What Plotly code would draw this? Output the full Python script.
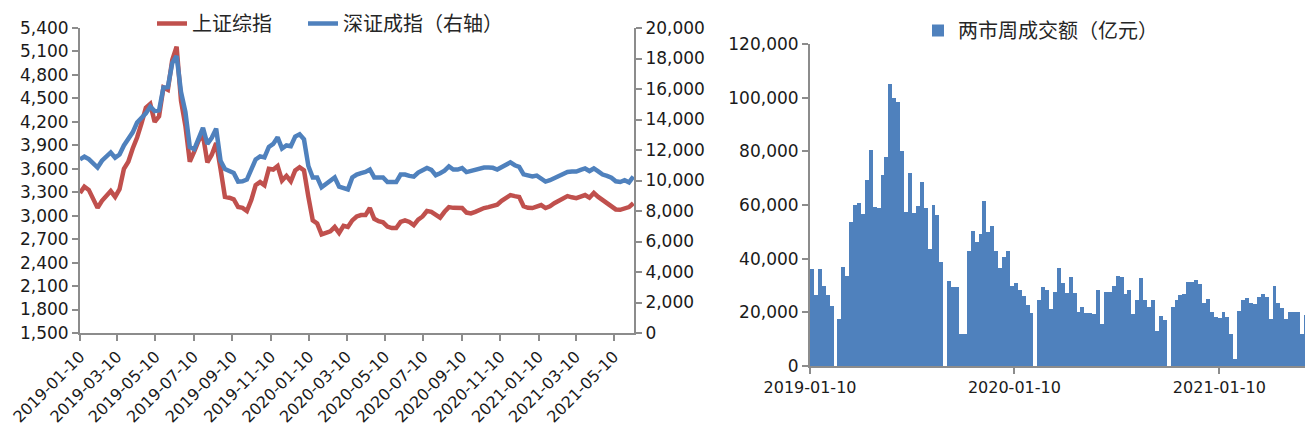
import plotly.graph_objects as go
import pandas as pd

# weekly dates (one per week, 2019-01-10 .. 2021-06-10)
weeks = pd.date_range("2019-01-10", periods=127, freq="7D")

sh_index = [
    3290, 3370, 3330, 3220, 3100, 3190, 3260, 3315, 3240, 3340,
    3600, 3690, 3860, 4000, 4180, 4380, 4430, 4200, 4270, 4640,
    4610, 4990, 5160, 4470, 4150, 3690, 3820, 3960, 4030, 3680,
    3780, 3930, 3600, 3240, 3230, 3210, 3110, 3100, 3060, 3200,
    3390, 3430, 3390, 3600, 3590, 3635, 3450, 3510, 3440, 3580,
    3620, 3580, 3240, 2940, 2900, 2760, 2780, 2800, 2855, 2780,
    2870, 2855, 2940, 2990, 3008, 3008, 3098, 2960, 2930, 2915,
    2860, 2842, 2842, 2920, 2940, 2920, 2880, 2950, 2990, 3060,
    3050, 3008, 2975, 3050, 3110, 3100, 3098, 3098, 3040, 3030,
    3050, 3080, 3098, 3110, 3125, 3140, 3190, 3230, 3264, 3250,
    3238, 3120, 3100, 3098, 3120, 3136, 3098, 3120, 3160, 3195,
    3220, 3250, 3235, 3225, 3245, 3264, 3230, 3290, 3240, 3200,
    3150, 3110, 3080, 3075, 3090, 3110, 3160,
]

sz_index = [
    11380, 11560, 11400, 11150, 10850, 11300, 11600, 11840, 11500, 11700,
    12300, 12750, 13160, 13800, 14100, 14400, 14850, 14550, 14600, 16100,
    16120, 17700, 18160, 15800, 14500, 12200, 12050, 12800, 13450, 12400,
    12800, 13400, 11300, 10750, 10600, 10500, 9930, 9950, 10060, 10700,
    11380, 11580, 11510, 12200, 12400, 12830, 12100, 12300, 12250, 12880,
    13030, 12700, 10950, 10200, 10200, 9550, 9750, 10000, 10200, 9600,
    9500, 9420, 10200, 10390, 10480, 10560, 10720, 10200, 10200, 10200,
    9900, 9870, 9900, 10390, 10390, 10300, 10250, 10520, 10650, 10820,
    10700, 10350, 10480, 10650, 10920, 10720, 10720, 10820, 10550, 10620,
    10680, 10800, 10850, 10850, 10830, 10720, 10900, 11050, 11190, 11000,
    10900, 10400, 10300, 10260, 10320, 10100, 9930, 10020, 10150, 10350,
    10420, 10560, 10590, 10590, 10700, 10790, 10620, 10790, 10600, 10390,
    10300, 10180, 9950, 9900, 10020, 9880, 10260,
]

turnover = [
    36300, 26500, 36000, 29800, 26300, 22400, 0, 17500, 36900, 33400,
    53700, 60000, 60900, 56600, 69400, 80600, 59400, 59000, 71200, 77900,
    105000, 100000, 98400, 80200, 57500, 72100, 56900, 59600, 68400, 58700,
    43700, 60000, 56100, 38700, 0, 31500, 29400, 29600, 12100, 11900,
    43000, 50300, 46200, 49300, 61500, 50000, 52000, 43000, 36600, 40800,
    42700, 30000, 30800, 28300, 26200, 22800, 19600, 0, 24600, 29300,
    28300, 21200, 27500, 36600, 30800, 27100, 33100, 27100, 20200, 22100,
    19600, 19600, 19300, 28300, 15800, 27500, 27500, 30000, 33400, 33300,
    26800, 28300, 19500, 24600, 32700, 24600, 22100, 24600, 13100, 18700,
    17100, 0, 22100, 24600, 26500, 26800, 31200, 31400, 32100, 30600,
    23300, 25000, 20300, 18100, 17800, 20000, 18100, 11900, 2500, 20600,
    24600, 25200, 23300, 23100, 25600, 26800, 25800, 17500, 30000, 23300,
    21800, 17700, 20000, 20300, 20000, 12100, 19000,
]

line_ticks = ["2019-01-10", "2019-03-10", "2019-05-10", "2019-07-10", "2019-09-10",
              "2019-11-10", "2020-01-10", "2020-03-10", "2020-05-10", "2020-07-10",
              "2020-09-10", "2020-11-10", "2021-01-10", "2021-03-10", "2021-05-10"]
bar_ticks = ["2019-01-10", "2020-01-10", "2021-01-10"]

RED = "#C0504D"
BLUE = "#4F81BD"
AXIS = "#8C8C8C"
TXT = "#1A1A1A"
TICKFONT = dict(family="DejaVu Sans", size=17, color=TXT)
XTICKFONT = dict(family="DejaVu Sans", size=16, color=TXT)
CJK = dict(family="Noto Sans CJK SC", size=20, color="#262626")

fig = go.Figure()
fig.add_trace(go.Scatter(x=weeks, y=sh_index, name="上证综指", mode="lines",
                         line=dict(color=RED, width=4.5), xaxis="x", yaxis="y",
                         legend="legend"))
fig.add_trace(go.Scatter(x=weeks, y=sz_index, name="深证成指（右轴）", mode="lines",
                         line=dict(color=BLUE, width=4.5), xaxis="x", yaxis="y2",
                         legend="legend3"))
fig.add_trace(go.Bar(x=weeks, y=turnover, name="两市周成交额（亿元）",
                     marker=dict(color=BLUE, line=dict(width=0)),
                     width=7 * 86400000, offset=0, xaxis="x2", yaxis="y3",
                     legend="legend2"))

axis_common = dict(showline=True, linecolor=AXIS, linewidth=2, ticks="outside",
                   tickcolor=AXIS, tickwidth=2, ticklen=6, showgrid=False,
                   zeroline=False, automargin=False)

legend_common = dict(orientation="h", xanchor="left", yanchor="top",
                     font=CJK, bgcolor="rgba(0,0,0,0)")

fig.update_layout(
    width=1305, height=436,
    margin=dict(l=0, r=0, t=0, b=0, autoexpand=False),
    paper_bgcolor="white", plot_bgcolor="white",
    showlegend=True,
    xaxis=dict(domain=[80 / 1305, 634 / 1305], type="date", anchor="y",
               range=["2019-01-10", "2021-06-11"],
               tickvals=line_ticks, ticktext=line_ticks, tickangle=-45,
               tickfont=XTICKFONT, **axis_common),
    yaxis=dict(domain=[(436 - 333) / 436, (436 - 28) / 436], anchor="x",
               range=[1500, 5400], tick0=1500, dtick=300, tickformat=",",
               tickfont=TICKFONT, **axis_common),
    yaxis2=dict(overlaying="y", side="right", anchor="x",
                range=[0, 20000], tick0=0, dtick=2000, tickformat=",",
                tickfont=TICKFONT, **axis_common),
    xaxis2=dict(domain=[810 / 1305, 1.0], type="date", anchor="y3",
                range=["2019-01-10", "2021-06-12"],
                tickvals=bar_ticks, ticktext=bar_ticks, tickangle=0,
                tickfont=XTICKFONT, **axis_common),
    yaxis3=dict(domain=[(436 - 366) / 436, (436 - 44) / 436], anchor="x2",
                range=[0, 120000], tick0=0, dtick=20000, tickformat=",",
                tickfont=TICKFONT, **axis_common),
    bargap=0,
    legend=dict(x=152 / 1305, y=1 - 4 / 436, **legend_common),
    legend3=dict(x=303 / 1305, y=1 - 4 / 436, **legend_common),
    legend2=dict(x=918 / 1305, y=1 - 11 / 436, **legend_common),
)

fig.write_html("out.html")
